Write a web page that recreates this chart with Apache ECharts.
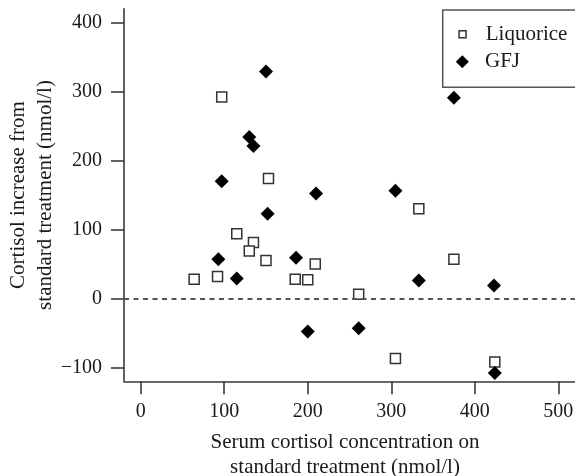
<!DOCTYPE html>
<html>
<head>
<meta charset="utf-8">
<script src="https://cdn.jsdelivr.net/npm/echarts@6/dist/echarts.min.js"></script>
<style>
html,body{margin:0;padding:0;background:#fff;}
#chart{width:575px;height:476px;}
</style>
</head>
<body>
<div id="chart"></div>
<script>
// Data
var liquoriceX = [97, 153, 115, 135, 130, 150, 209, 64, 92, 185, 200, 261, 333, 375, 305, 424];
var liquoriceY = [292, 174, 94, 81, 69, 55, 50, 28, 32, 28, 27, 6, 130, 57, -87, -92];
var gfjX = [150, 130, 135, 97, 210, 375, 305, 152, 93, 186, 115, 200, 261, 333, 423, 424];
var gfjY = [329, 234, 221, 170, 152, 291, 156, 123, 57, 59, 29, -48, -43, 26, 19, -108];
var xTicks = [0, 100, 200, 300, 400, 500];
var yTicks = [-100, 0, 100, 200, 300, 400];
var seriesNames = ['Liquorice', 'GFJ'];
var xTitle = 'Serum cortisol concentration on\nstandard treatment (nmol/l)';
var yTitle = 'Cortisol increase from\nstandard treatment (nmol/l)';

function pairs(xs, ys) { return xs.map(function (x, i) { return [x, ys[i]]; }); }
function fmt(v) { return String(v).replace('-', '\u2212'); }

var FONT = "'Liberation Serif', 'Times New Roman', serif";
var AXIS_COLOR = '#3a3a3a';
var TEXT_COLOR = '#1a1a1a';

var chart = echarts.init(document.getElementById('chart'), null, { renderer: 'canvas' });
chart.setOption({
  animation: false,
  backgroundColor: '#fff',
  textStyle: { fontFamily: FONT },
  grid: { left: 124, right: 0, top: 8.7, bottom: 94.7, containLabel: false, outerBoundsMode: 'none' },
  xAxis: {
    type: 'value', min: -20, max: 520,
    splitLine: { show: false },
    axisLine: { show: true, onZero: false, lineStyle: { color: AXIS_COLOR, width: 1.6 } },
    axisTick: { show: true, inside: false, length: 13, customValues: xTicks, lineStyle: { color: AXIS_COLOR, width: 1.6 } },
    axisLabel: { customValues: xTicks, formatter: fmt, margin: 20, fontSize: 20, color: TEXT_COLOR, fontFamily: FONT },
    name: xTitle, nameLocation: 'middle', nameGap: 49, nameMoveOverlap: false,
    nameTextStyle: { fontSize: 21, lineHeight: 25, color: TEXT_COLOR, fontFamily: FONT, padding: [0, 9, 0, 0] }
  },
  yAxis: {
    type: 'value', min: -120, max: 420,
    splitLine: { show: false },
    axisLine: { show: true, onZero: false, lineStyle: { color: AXIS_COLOR, width: 1.6 } },
    axisTick: { show: true, inside: false, length: 13, customValues: yTicks, lineStyle: { color: AXIS_COLOR, width: 1.6 } },
    axisLabel: { customValues: yTicks, formatter: fmt, margin: 22, fontSize: 20, color: TEXT_COLOR, fontFamily: FONT },
    name: yTitle, nameLocation: 'middle', nameRotate: 90, nameGap: 65, nameMoveOverlap: false,
    nameTextStyle: { fontSize: 21, lineHeight: 27, color: TEXT_COLOR, fontFamily: FONT }
  },
  legend: [
    {
      data: [seriesNames[0]], orient: 'vertical', left: 442.7, top: 10,
      padding: [13.3, 60, 42, 15.6],
      borderColor: '#555', borderWidth: 1.5,
      itemWidth: 7, itemHeight: 7,
      itemStyle: { borderWidth: 1.5, borderColor: '#333', color: '#fff' },
      textStyle: { fontSize: 21, lineHeight: 22, color: TEXT_COLOR, fontFamily: FONT, padding: [0, 0, 0, 14.7] }
    },
    {
      data: [seriesNames[1]], orient: 'vertical', left: 455.8, top: 50.7,
      padding: 0,
      itemWidth: 13, itemHeight: 13,
      itemStyle: { borderWidth: 0 },
      textStyle: { fontSize: 21, lineHeight: 22, color: TEXT_COLOR, fontFamily: FONT, padding: [0, 0, 0, 11.2] }
    }
  ],
  series: [
    {
      name: seriesNames[0], type: 'scatter', symbol: 'rect', symbolSize: 10,
      itemStyle: { color: '#fff', borderColor: '#333', borderWidth: 1.5, opacity: 1 },
      data: pairs(liquoriceX, liquoriceY),
      markLine: {
        silent: true, symbol: 'none', animation: false,
        label: { show: false },
        lineStyle: { type: [5, 4.5], color: '#555', width: 2 },
        data: [{ yAxis: 0 }]
      }
    },
    {
      name: seriesNames[1], type: 'scatter', symbol: 'diamond', symbolSize: [14, 14],
      itemStyle: { color: '#000', opacity: 1 },
      data: pairs(gfjX, gfjY)
    }
  ]
});
</script>
</body>
</html>
